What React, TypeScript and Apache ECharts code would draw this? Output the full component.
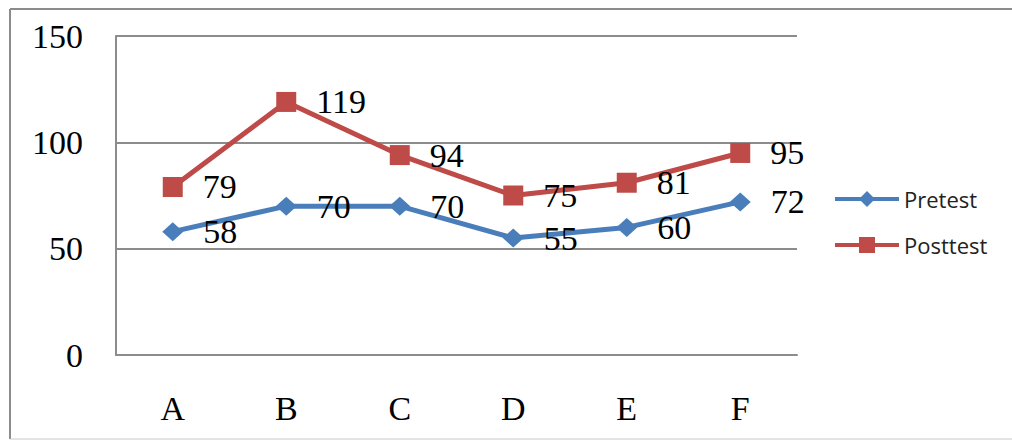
import React, { useEffect, useRef } from "react";
import * as echarts from "echarts";

const categories = ["A", "B", "C", "D", "E", "F"];
const pretest = [58, 70, 70, 55, 60, 72];
const posttest = [79, 119, 94, 75, 81, 95];
const yTicks = { min: 0, max: 150, interval: 50 };

const SERIF = "'Liberation Serif', 'Times New Roman', serif";
const SANS = "'Open Sans', 'Noto Sans', sans-serif";
const BLUE = "#4A7EBB";
const RED = "#BE4B48";
const GRID = "#8c8c8c";

export default function App() {
  const ref = useRef<HTMLDivElement>(null);
  useEffect(() => {
    document.body.style.margin = "0";
    const chart = echarts.init(ref.current!, undefined, { renderer: "svg" });
    const label = {
      show: true,
      position: "right",
      distance: 20,
      color: "#000",
      fontFamily: SERIF,
      fontSize: 34,
    };
    const frame = { stroke: GRID, lineWidth: 2 };
    chart.setOption({
      animation: false,
      backgroundColor: "#fff",
      graphic: [
        { type: "line", shape: { x1: 10, y1: 9, x2: 1012, y2: 9 }, style: frame, silent: true },
        { type: "line", shape: { x1: 10, y1: 9, x2: 10, y2: 439 }, style: frame, silent: true },
        { type: "line", shape: { x1: 10, y1: 439, x2: 1012, y2: 439 }, style: { stroke: "#c8c8c8", lineWidth: 1 }, silent: true },
      ],
      grid: { left: 116, right: 215, top: 36, bottom: 85 },
      legend: {
        orient: "vertical",
        left: 828,
        top: 183,
        itemWidth: 64,
        itemHeight: 20,
        itemGap: 24,
        lineStyle: { width: 4 },
        textStyle: { fontFamily: SANS, fontSize: 22, color: "#222" },
        data: ["Pretest", "Posttest"],
      },
      xAxis: {
        type: "category",
        data: categories,
        boundaryGap: true,
        axisLine: { lineStyle: { color: GRID, width: 2 } },
        axisTick: { show: false },
        axisLabel: { fontFamily: SERIF, fontSize: 34, color: "#000", margin: 36 },
      },
      yAxis: {
        type: "value",
        min: yTicks.min,
        max: yTicks.max,
        interval: yTicks.interval,
        axisLine: { show: true, lineStyle: { color: GRID, width: 2 } },
        axisTick: { show: false },
        splitLine: { lineStyle: { color: GRID, width: 2 } },
        axisLabel: { fontFamily: SERIF, fontSize: 34, color: "#000", margin: 33 },
      },
      series: [
        {
          name: "Pretest",
          type: "line",
          data: pretest,
          symbol: "diamond",
          symbolSize: [21, 19],
          lineStyle: { color: BLUE, width: 5 },
          itemStyle: { color: BLUE },
          label,
        },
        {
          name: "Posttest",
          type: "line",
          data: posttest,
          symbol: "rect",
          symbolSize: 20,
          lineStyle: { color: RED, width: 5 },
          itemStyle: { color: RED },
          label,
        },
      ],
    });
    return () => chart.dispose();
  }, []);
  return <div ref={ref} style={{ width: 1012, height: 440 }} />;
}
